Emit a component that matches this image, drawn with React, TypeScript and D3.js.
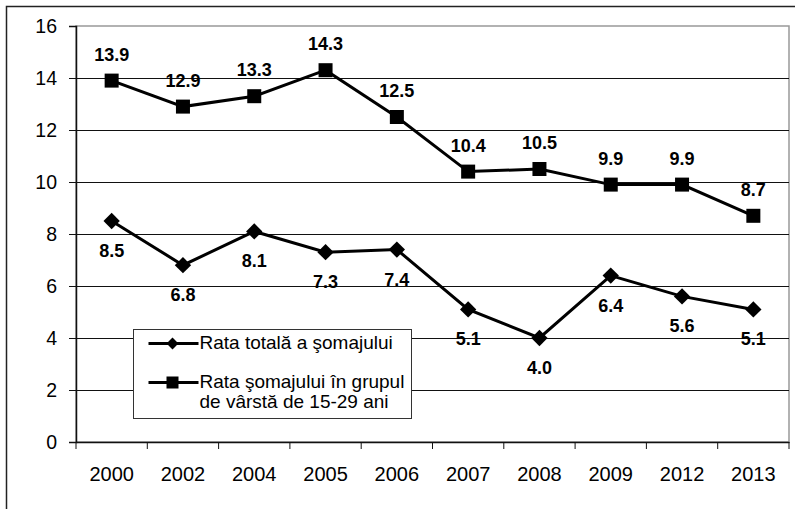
import React, { useRef, useEffect } from 'react';
import * as d3 from 'd3';

const years = ['2000', '2002', '2004', '2005', '2006', '2007', '2008', '2009', '2012', '2013'];
const totalRate = [8.5, 6.8, 8.1, 7.3, 7.4, 5.1, 4.0, 6.4, 5.6, 5.1];
const youthRate = [13.9, 12.9, 13.3, 14.3, 12.5, 10.4, 10.5, 9.9, 9.9, 8.7];
const yTicks = [0, 2, 4, 6, 8, 10, 12, 14, 16];
const legendLabels = ['Rata totală a şomajului', 'Rata şomajului în grupul', 'de vârstă de 15-29 ani'];

const width = 795;
const height = 509;

function App() {
  const svgRef = useRef<SVGSVGElement>(null);

  useEffect(() => {
    const margin = { top: 26, right: 6, bottom: 67, left: 76 };
    const innerWidth = width - margin.left - margin.right;
    const innerHeight = height - margin.top - margin.bottom;
    const font = '"Liberation Sans", Arial, sans-serif';

    const svg = d3.select(svgRef.current);
    svg.selectAll('*').remove();

    // outer frame (right/bottom fall off the picture)
    svg.append('rect')
      .attr('x', 6.5).attr('y', 6.5)
      .attr('width', width + 20).attr('height', height + 20)
      .attr('fill', 'none').attr('stroke', '#222').attr('stroke-width', 1.5);

    const x = d3.scaleBand().domain(years).range([0, innerWidth]);
    const y = d3.scaleLinear().domain([0, 16]).range([innerHeight, 0]);

    const g = svg.append('g')
      .attr('transform', `translate(${margin.left}, ${margin.top})`);

    // plot area border
    g.append('rect')
      .attr('x', 0).attr('y', 0)
      .attr('width', innerWidth).attr('height', innerHeight)
      .attr('fill', 'none').attr('stroke', '#999').attr('stroke-width', 1.5);

    // gridlines
    g.selectAll('.grid')
      .data(yTicks.filter(t => t > 0 && t < 16))
      .enter()
      .append('line')
      .attr('x1', 0).attr('x2', innerWidth)
      .attr('y1', d => Math.round(y(d)) + 0.5).attr('y2', d => Math.round(y(d)) + 0.5)
      .attr('stroke', '#111').attr('stroke-width', 1);

    // Y axis
    const yAxis = g.append('g')
      .call(d3.axisLeft(y).tickValues(yTicks).tickSize(7).tickPadding(12));
    yAxis.select('.domain').attr('stroke', '#111').attr('stroke-width', 1.5);
    yAxis.selectAll('line').attr('stroke', '#111');
    yAxis.selectAll('text')
      .attr('font-family', font).attr('font-size', 19.5).attr('fill', '#000');

    // X axis
    const xAxis = g.append('g')
      .attr('transform', `translate(0, ${innerHeight})`)
      .call(d3.axisBottom(x).tickSize(0).tickPadding(25));
    xAxis.select('.domain').attr('stroke', '#111').attr('stroke-width', 1.5);
    xAxis.selectAll('text')
      .attr('font-family', font).attr('font-size', 20).attr('fill', '#000');
    xAxis.selectAll('.sep')
      .data(d3.range(years.length + 1))
      .enter()
      .append('line')
      .attr('x1', i => i * x.step()).attr('x2', i => i * x.step())
      .attr('y1', 0).attr('y2', 7)
      .attr('stroke', '#111');

    const cx = (i: number) => (x(years[i]) as number) + x.bandwidth() / 2;
    const line = d3.line<number>().x((d, i) => cx(i)).y(d => y(d));
    const diamond = d3.symbol().type(d3.symbolDiamond2).size(170);

    // total series
    g.append('path').datum(totalRate)
      .attr('d', line).attr('fill', 'none').attr('stroke', '#000').attr('stroke-width', 3);
    g.selectAll('.dia')
      .data(totalRate).enter().append('path')
      .attr('d', diamond)
      .attr('transform', (d, i) => `translate(${cx(i)}, ${y(d)})`)
      .attr('fill', '#000');
    g.selectAll('.lblT')
      .data(totalRate).enter().append('text')
      .attr('x', (d, i) => cx(i)).attr('y', d => y(d) + 36)
      .attr('text-anchor', 'middle')
      .attr('font-family', font).attr('font-size', 18).attr('font-weight', 'bold')
      .text(d => d.toFixed(1));

    // youth series
    g.append('path').datum(youthRate)
      .attr('d', line).attr('fill', 'none').attr('stroke', '#000').attr('stroke-width', 3);
    g.selectAll('.sq')
      .data(youthRate).enter().append('rect')
      .attr('x', (d, i) => cx(i) - 7).attr('y', d => y(d) - 7)
      .attr('width', 14).attr('height', 14)
      .attr('fill', '#000');
    g.selectAll('.lblY')
      .data(youthRate).enter().append('text')
      .attr('x', (d, i) => cx(i)).attr('y', d => y(d) - 20)
      .attr('text-anchor', 'middle')
      .attr('font-family', font).attr('font-size', 18).attr('font-weight', 'bold')
      .text(d => d.toFixed(1));

    // Legend
    const lg = svg.append('g').attr('transform', 'translate(133.5, 329.5)');
    lg.append('rect')
      .attr('width', 278).attr('height', 89)
      .attr('fill', '#fff').attr('stroke', '#333').attr('stroke-width', 1);
    const rows = [14, 53];
    const legendDiamond = d3.symbol().type(d3.symbolDiamond2).size(90);
    rows.forEach((ry, k) => {
      lg.append('line')
        .attr('x1', 15).attr('x2', 65).attr('y1', ry).attr('y2', ry)
        .attr('stroke', '#000').attr('stroke-width', 3);
      if (k === 0) {
        lg.append('path').attr('d', legendDiamond).attr('transform', `translate(39, ${ry})`).attr('fill', '#000');
      } else {
        lg.append('rect').attr('x', 33).attr('y', ry - 6).attr('width', 12).attr('height', 12).attr('fill', '#000');
      }
    });
    lg.selectAll('.lt')
      .data(legendLabels).enter().append('text')
      .attr('x', 66)
      .attr('y', (d, i) => [19, 58, 78][i])
      .attr('font-family', font).attr('font-size', 19).attr('fill', '#000')
      .text(d => d);
  }, []);

  return (
    <svg
      ref={svgRef}
      width={width}
      height={height}
      style={{ position: 'absolute', left: 0, top: 0, background: '#fff' }}
    />
  );
}

export default App;
